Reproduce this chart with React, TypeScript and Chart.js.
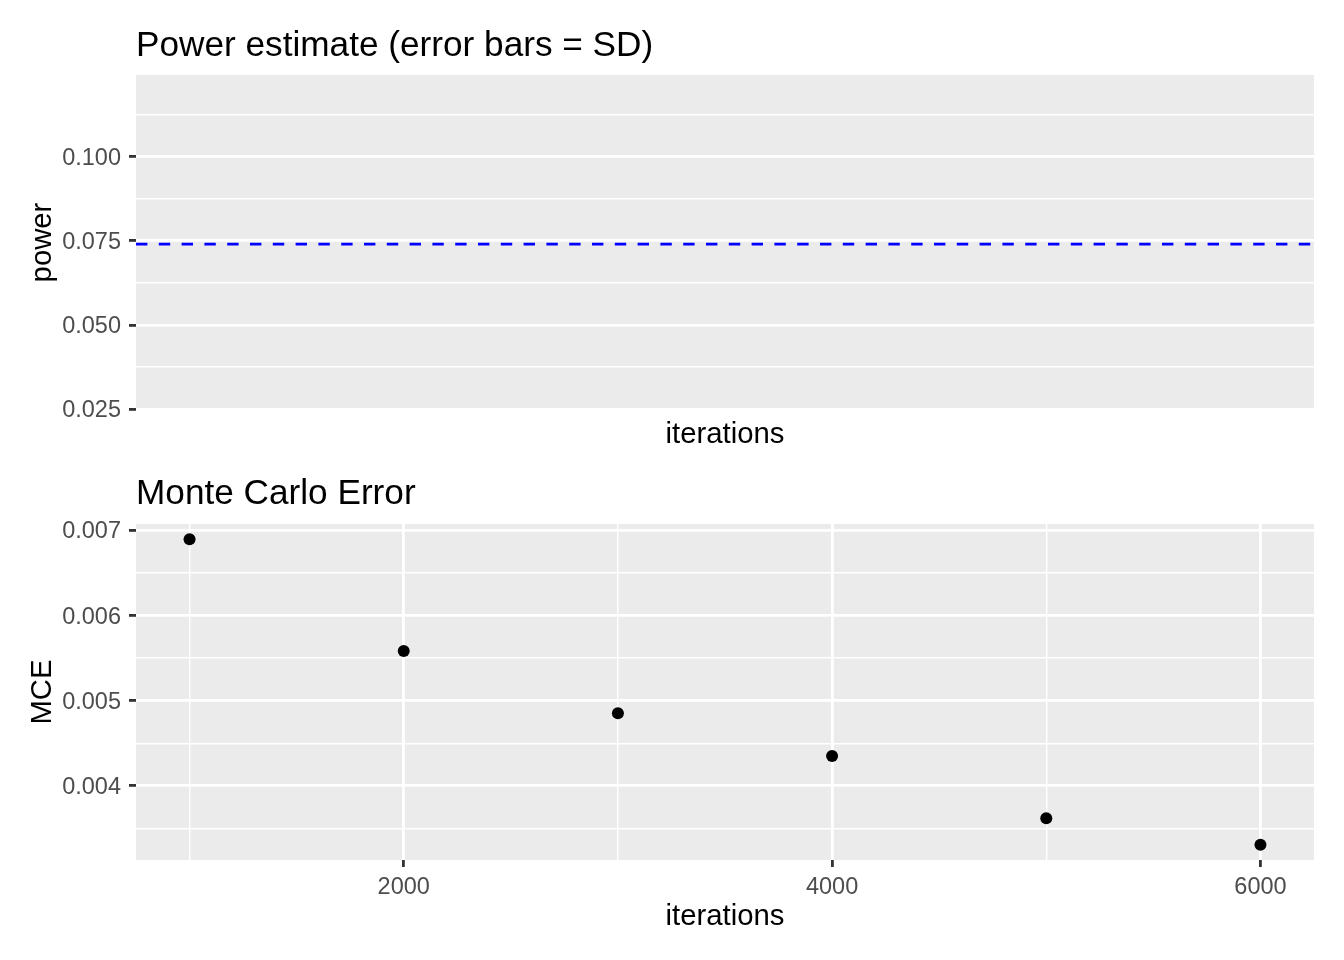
import React, { useEffect, useRef } from "react";
import { Chart, registerables } from "chart.js";

Chart.register(...registerables);

// ---- data ----
const iterations = [1000, 2000, 3000, 4000, 5000, 6000];
const mceValues = [0.00689, 0.00558, 0.00485, 0.00435, 0.00362, 0.00331];
const powerEstimate = 0.074;
const powerLimits: [number, number] = [0.0247, 0.1243];

// ---- ticks ----
const powerMajor = [0.025, 0.05, 0.075, 0.1];
const powerMinor = [0.0375, 0.0625, 0.0875, 0.1125];
const powerLabels = ["0.025", "0.050", "0.075", "0.100"];
const mceMajor = [0.004, 0.005, 0.006, 0.007];
const mceMinor = [0.0035, 0.0045, 0.0055, 0.0065];
const mceLabels = ["0.004", "0.005", "0.006", "0.007"];
const iterMajor = [2000, 4000, 6000];
const iterMinor = [1000, 3000, 5000];
const iterLabels = ["2000", "4000", "6000"];

const FONT = "'Liberation Sans', Arial, Helvetica, sans-serif";
const PANEL = "#EBEBEB";
const W = 1344;
const MAJOR_W = 2.8;
const MINOR_W = 1.4;

function expand(vals: number[], mult = 0.05): [number, number] {
  const lo = Math.min(...vals);
  const hi = Math.max(...vals);
  const pad = (hi - lo) * mult;
  return [lo - pad, hi + pad];
}

const near = (a: number, b: number) => Math.abs(a - b) < 1e-9 * Math.max(1, Math.abs(b));

const panelBg = {
  id: "panelBg",
  beforeDraw(chart: any) {
    const { ctx, chartArea: a } = chart;
    ctx.save();
    ctx.fillStyle = PANEL;
    ctx.fillRect(a.left, a.top, a.right - a.left, a.bottom - a.top);
    ctx.restore();
  },
};

function gridFor(major: number[]) {
  const isMajor = (c: any) => !!c.tick && major.some((m) => near(m, c.tick.value));
  return {
    color: "#FFFFFF",
    lineWidth: (c: any) => (isMajor(c) ? MAJOR_W : MINOR_W),
    drawTicks: true,
    tickLength: 7,
    tickWidth: MAJOR_W,
    tickColor: (c: any) => (isMajor(c) ? "#333333" : "rgba(0,0,0,0)"),
  };
}

function ticksFor(major: number[], labels: string[], padding: number, labelOffset: number) {
  return {
    autoSkip: false,
    maxRotation: 0,
    padding,
    labelOffset,
    color: "#4D4D4D",
    font: { family: FONT, size: 23.5 },
    callback: (v: any) => {
      const i = major.findIndex((m) => near(m, Number(v)));
      return i >= 0 ? labels[i] : "";
    },
  };
}

function setTicks(major: number[], minor: number[], lims: [number, number]) {
  return (s: any) => {
    s.ticks = [...major, ...minor]
      .filter((v) => v >= lims[0] && v <= lims[1])
      .sort((a, b) => a - b)
      .map((v) => ({ value: v }));
  };
}

function yScale(major: number[], minor: number[], labels: string[], lims: [number, number], title: string) {
  return {
    type: "linear",
    position: "left",
    min: lims[0],
    max: lims[1],
    afterBuildTicks: setTicks(major, minor, lims),
    afterFit: (s: any) => {
      s.width = 136;
    },
    ticks: ticksFor(major, labels, 8, 2),
    grid: gridFor(major),
    border: { display: false },
    title: {
      display: true,
      text: title,
      color: "#000000",
      font: { family: FONT, size: 29.3 },
      padding: { top: 25.4, bottom: 0 },
    },
  };
}

function titleOpts(text: string, top: number, bottom: number) {
  return {
    display: true,
    text,
    align: "start",
    fullSize: false,
    color: "#000000",
    font: { family: FONT, size: 35.2, weight: "normal" },
    padding: { top, bottom },
  };
}

function powerConfig(): any {
  const xl = expand(iterations);
  return {
    type: "line",
    data: {
      datasets: [
        {
          data: [
            { x: xl[0], y: powerEstimate },
            { x: xl[1], y: powerEstimate },
          ],
          borderColor: "#0000FF",
          borderWidth: 2.8,
          borderDash: [11.4, 11.4],
          pointRadius: 0,
          fill: false,
          tension: 0,
        },
      ],
    },
    options: {
      animation: false,
      responsive: false,
      events: [],
      layout: { padding: { left: 0, right: 30, top: 0, bottom: 0 } },
      plugins: {
        legend: { display: false },
        tooltip: { enabled: false },
        title: titleOpts("Power estimate (error bars = SD)", 25.2, 7.6),
      },
      scales: {
        x: {
          type: "linear",
          position: "bottom",
          min: xl[0],
          max: xl[1],
          afterFit: (s: any) => {
            s.height = 50;
          },
          ticks: { display: false },
          grid: { display: false },
          border: { display: false },
          title: {
            display: true,
            text: "iterations",
            color: "#000000",
            font: { family: FONT, size: 29.3 },
            padding: { top: 0, bottom: 7.6 },
          },
        },
        y: yScale(powerMajor, powerMinor, powerLabels, powerLimits, "power"),
      },
    },
    plugins: [panelBg],
  };
}

function mceConfig(): any {
  const xl = expand(iterations);
  const yl = expand(mceValues);
  return {
    type: "scatter",
    data: {
      datasets: [
        {
          data: iterations.map((it, i) => ({ x: it, y: mceValues[i] })),
          backgroundColor: "#000000",
          borderWidth: 0,
          pointRadius: 6,
        },
      ],
    },
    options: {
      animation: false,
      responsive: false,
      events: [],
      layout: { padding: { left: 0, right: 30, top: 0, bottom: 0 } },
      plugins: {
        legend: { display: false },
        tooltip: { enabled: false },
        title: titleOpts("Monte Carlo Error", 13.5, 8.3),
      },
      scales: {
        x: {
          type: "linear",
          position: "bottom",
          min: xl[0],
          max: xl[1],
          afterBuildTicks: setTicks(iterMajor, iterMinor, xl),
          afterFit: (s: any) => {
            s.height = 100;
          },
          ticks: ticksFor(iterMajor, iterLabels, 6, 0),
          grid: gridFor(iterMajor),
          border: { display: false },
          title: {
            display: true,
            text: "iterations",
            color: "#000000",
            font: { family: FONT, size: 29.3 },
            padding: { top: 0, bottom: 26 },
          },
        },
        y: yScale(mceMajor, mceMinor, mceLabels, yl, "MCE"),
      },
    },
    plugins: [panelBg],
  };
}

function ChartCanvas({ make, top, height }: { make: () => any; top: number; height: number }) {
  const ref = useRef<HTMLCanvasElement>(null);
  useEffect(() => {
    if (!ref.current) return;
    const chart = new Chart(ref.current, make());
    return () => chart.destroy();
  }, []);
  return (
    <canvas
      ref={ref}
      width={W}
      height={height}
      style={{ position: "absolute", left: 0, top, width: W, height, display: "block" }}
    />
  );
}

export default function App() {
  return (
    <div
      style={{
        position: "absolute",
        left: 0,
        top: 0,
        width: W,
        height: 960,
        background: "#FFFFFF",
        overflow: "hidden",
      }}
    >
      <ChartCanvas make={powerConfig} top={0} height={460} />
      <ChartCanvas make={mceConfig} top={460} height={500} />
    </div>
  );
}
